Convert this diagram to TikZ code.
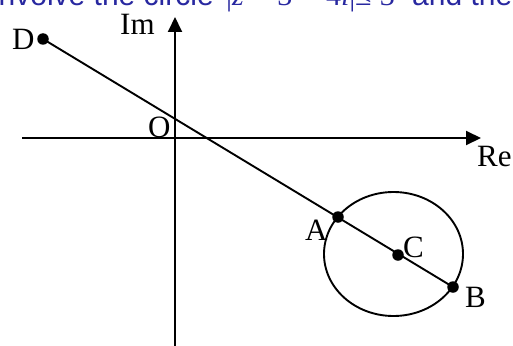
\documentclass[tikz,border=0pt]{standalone}
\usepackage{fontspec}
\setmainfont{Liberation Serif}
\newfontfamily\bluefont{Liberation Sans}
\usetikzlibrary{arrows.meta}
\definecolor{headblue}{RGB}{40,40,160}
\begin{document}
\begin{tikzpicture}[x=1pt,y=-1pt,
  lbl/.style={anchor=base west,inner sep=0pt,font=\fontsize{31}{31}\selectfont},
  headtxt/.style={inner sep=0pt,text=headblue,font=\bluefont\fontsize{30}{30}\selectfont},
  headmath/.style={inner sep=0pt,text=headblue,font=\fontsize{30}{30}\selectfont},
  dot/.style={circle,fill=black,inner sep=0pt,minimum size=11.5pt},
  axis/.style={line width=2pt,-{Triangle[length=15pt,width=14pt]}},
  seg/.style={line width=1.9pt}]
\useasboundingbox (0,0) rectangle (513,345);
\clip (0,0) rectangle (513,345);
% clipped heading text
\node[headtxt,anchor=base east] (head1) at (214,6) {involve the circle};
\node[headmath,anchor=base west] (head2) at (226,6) {|\textit{z}\;−\;3\;−\;4\textit{i}|};
\node[headmath,anchor=base west] (head3) at (355,6) {≤\;3};
\node[headtxt,anchor=base west] (head4) at (412,6) {and the};
% axes
\coordinate (xl) at (22,138);
\coordinate (xr) at (481,138);
\coordinate (yb) at (175,350);
\coordinate (yt) at (175,17);
\draw[axis] (xl) -- (xr);
\draw[axis] (yb) -- (yt);
% circle
\draw[seg] (393.5,254) ellipse [x radius=69.5, y radius=62];
% points
\node[dot] (D) at (43,39) {};
\node[dot] (A) at (338,217) {};
\node[dot] (C) at (398,255) {};
\node[dot] (B) at (453,287) {};
\draw[seg] (D.center) -- (B.center);
% labels
\node[lbl] (lD) at (12,49) {D};
\node[lbl] (lIm) at (120,35) {Im};
\node[lbl] (lO) at (148,137) {O};
\node[lbl] (lRe) at (477,166) {Re};
\node[lbl] (lA) at (305,240) {A};
\node[lbl] (lC) at (403,257) {C};
\node[lbl] (lB) at (465,307) {B};
\end{tikzpicture}
\end{document}
